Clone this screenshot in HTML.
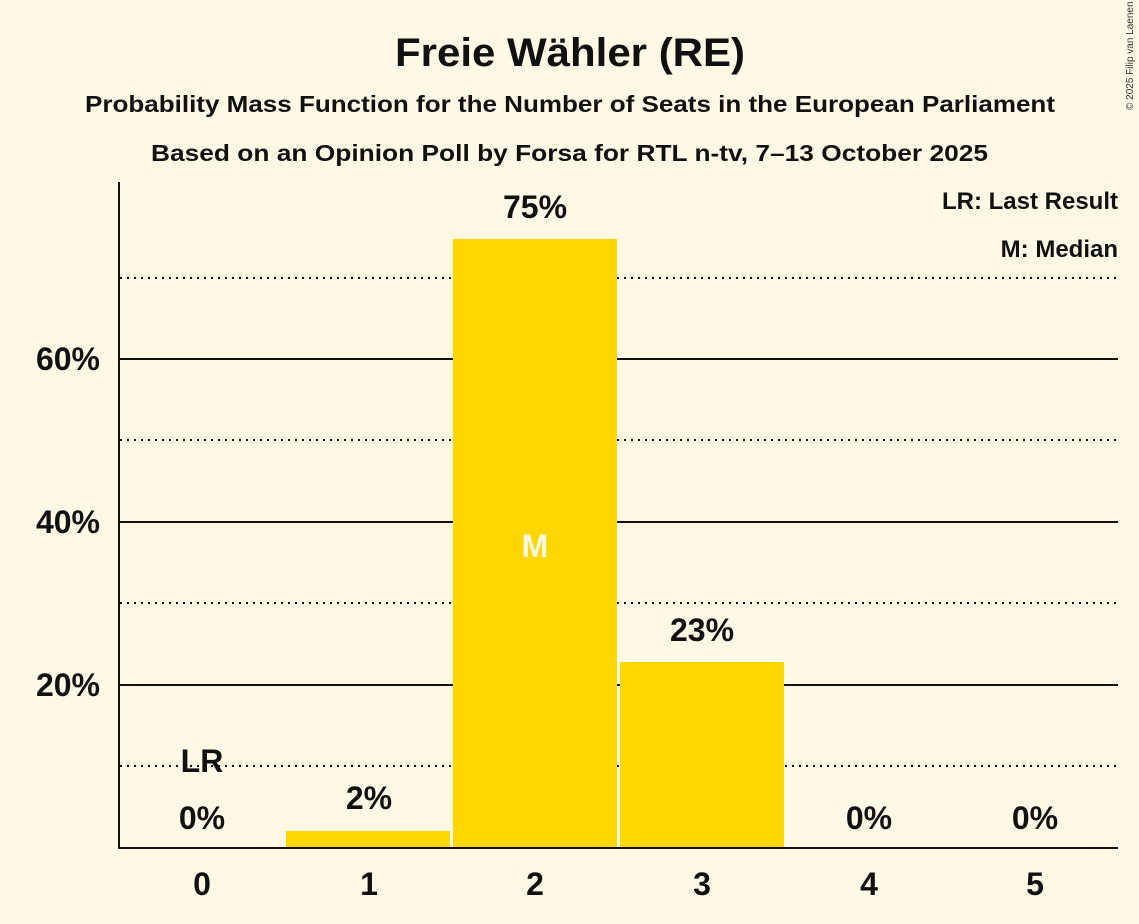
<!DOCTYPE html>
<html><head><meta charset="utf-8"><style>
html,body{margin:0;padding:0;background:#fff8e4;}
svg{display:block;font-family:"Liberation Sans",sans-serif;font-weight:bold;}
</style></head><body>
<svg width="1139" height="924" viewBox="0 0 1139 924" xmlns="http://www.w3.org/2000/svg">
<rect width="1139" height="924" fill="#fff8e4"/>
<text x="395" y="66" font-size="40" fill="#111" textLength="350" lengthAdjust="spacingAndGlyphs">Freie Wähler (RE)</text>
<text x="85" y="112" font-size="23" fill="#111" textLength="970" lengthAdjust="spacingAndGlyphs">Probability Mass Function for the Number of Seats in the European Parliament</text>
<text x="151" y="161" font-size="23" fill="#111" textLength="837" lengthAdjust="spacingAndGlyphs">Based on an Opinion Poll by Forsa for RTL n-tv, 7–13 October 2025</text>
<text x="1133" y="110" font-size="10" font-weight="normal" fill="#333" transform="rotate(-90 1133 110)">© 2025 Filip van Laenen</text>
<g stroke="#111" stroke-width="2">
<line x1="120" y1="359" x2="1118" y2="359"/>
<line x1="120" y1="522" x2="1118" y2="522"/>
<line x1="120" y1="685" x2="1118" y2="685"/>
</g>
<g stroke="#111" stroke-width="2" stroke-dasharray="2,5">
<line x1="120" y1="766" x2="1118" y2="766"/>
<line x1="120" y1="603" x2="1118" y2="603"/>
<line x1="120" y1="440" x2="1118" y2="440"/>
<line x1="120" y1="278" x2="1118" y2="278"/>
</g>
<g fill="#ffd700">
<rect x="286" y="831" width="164" height="17"/>
<rect x="453" y="239" width="164" height="609"/>
<rect x="620" y="662" width="164" height="186"/>
</g>
<line x1="119" y1="182" x2="119" y2="849" stroke="#111" stroke-width="2"/>
<line x1="118" y1="848" x2="1118" y2="848" stroke="#111" stroke-width="2"/>
<g font-size="32" fill="#111" text-anchor="end">
<text x="100" y="370">60%</text>
<text x="100" y="533">40%</text>
<text x="100" y="696">20%</text>
</g>
<g font-size="32" fill="#111" text-anchor="middle">
<text x="202" y="895">0</text><text x="369" y="895">1</text><text x="535" y="895">2</text>
<text x="702" y="895">3</text><text x="869" y="895">4</text><text x="1035" y="895">5</text>
<text x="202" y="829">0%</text><text x="369" y="809">2%</text><text x="535" y="218">75%</text>
<text x="702" y="641">23%</text><text x="869" y="829">0%</text><text x="1035" y="829">0%</text>
<text x="202" y="772">LR</text>
<text x="535" y="557" fill="#fff8e4">M</text>
</g>
<g font-size="24" fill="#111" text-anchor="end">
<text x="1118" y="209">LR: Last Result</text>
<text x="1118" y="257">M: Median</text>
</g>
</svg>
</body></html>
